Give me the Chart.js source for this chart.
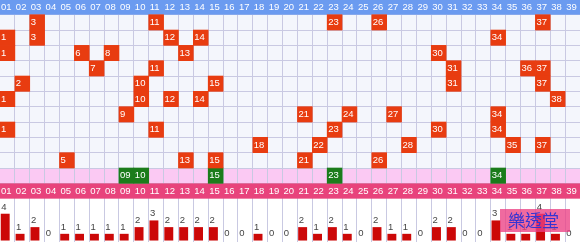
<!DOCTYPE html>
<html>
<head>
<meta charset="utf-8">
<script src="https://cdn.jsdelivr.net/npm/chart.js@4/dist/chart.umd.min.js"></script>
<style>
  body { margin: 0; background: #fff; }
  canvas { display: block; }
</style>
</head>
<body>
<canvas id="trend-chart" width="580" height="242"></canvas>
<script>
const numbers = ['01','02','03','04','05','06','07','08','09','10','11','12','13',
  '14','15','16','17','18','19','20','21','22','23','24','25','26',
  '27','28','29','30','31','32','33','34','35','36','37','38','39'];

// past draws, top row first
const draws = [
  [3, 11, 23, 26, 37],
  [1, 3, 12, 14, 34],
  [1, 6, 8, 13, 30],
  [7, 11, 31, 36, 37],
  [2, 10, 15, 31, 37],
  [1, 10, 12, 14, 38],
  [9, 21, 24, 27, 34],
  [1, 11, 23, 30, 34],
  [18, 22, 28, 35, 37],
  [5, 13, 15, 21, 26]
];
const latest = [9, 10, 15, 23, 34];
const counts = [4, 1, 2, 0, 1, 1, 1, 1, 1, 2, 3, 2, 2, 2, 2, 0, 0, 1, 0, 0,
  2, 1, 2, 1, 0, 2, 1, 1, 0, 2, 2, 0, 0, 3, 1, 1, 4, 1, 0];

const textFont = '9.5px "Liberation Sans", Arial, sans-serif';
const pad = n => String(n).padStart(2, '0');

const cellData = [];
draws.forEach((row, r) => row.forEach(n => cellData.push({x: pad(n), y: [r + 1, r + 2]})));
const latestData = latest.map(n => ({x: pad(n), y: [11, 12]}));
const countData = counts.map((c, i) => ({x: i, y: c}));

function band(chart, from, to, color) {
  const {ctx, chartArea, scales: {y}} = chart;
  const top = y.getPixelForValue(from);
  const bottom = y.getPixelForValue(to);
  ctx.fillStyle = color;
  ctx.fillRect(chartArea.left, top, chartArea.width, bottom - top);
}

const trendPlugin = {
  id: 'trend',
  beforeDraw(chart) {
    band(chart, 1, 11, '#f4f6fc');
    band(chart, 11, 12, '#fbc9f3');
  },
  beforeDatasetsDraw(chart) {
    band(chart, -1, 1, '#6b9bf0');
    band(chart, 12, 13, '#e8437c');
  },
  afterDatasetsDraw(chart) {
    const {ctx, scales: {x, y}} = chart;
    const colW = x.width / numbers.length;
    ctx.save();
    ctx.font = textFont;
    ctx.textBaseline = 'middle';
    ctx.textAlign = 'left';
    ctx.fillStyle = '#fff';

    // column headers, top and bottom
    numbers.forEach((label, i) => {
      const left = x.getPixelForValue(i) - colW / 2 + 1;
      ctx.fillText(label, left, y.getPixelForValue(0.5));
      ctx.fillText(label, left, y.getPixelForValue(12.5));
    });

    // numbers inside cells
    draws.forEach((row, r) => row.forEach(n => {
      const left = x.getPixelForValue(n - 1) - colW / 2 + 1;
      ctx.fillText(String(n), left, y.getPixelForValue(r + 1.5));
    }));
    latest.forEach(n => {
      const left = x.getPixelForValue(n - 1) - colW / 2 + 1;
      ctx.fillText(pad(n), left, y.getPixelForValue(11.5));
    });

    // count labels above the bars
    ctx.fillStyle = '#444';
    ctx.textBaseline = 'bottom';
    chart.getDatasetMeta(2).data.forEach((bar, i) => {
      ctx.fillText(String(counts[i]), bar.x - bar.width / 2 + 0.5, bar.y - 2);
    });

    // watermark
    ctx.fillStyle = 'rgba(236, 64, 132, 0.78)';
    ctx.fillRect(500, 209, 70, 23);
    ctx.fillStyle = '#3434d2';
    ctx.font = '17px "Noto Sans CJK TC", sans-serif';
    ctx.textBaseline = 'middle';
    ctx.fillText('樂透堂', 508, 221);
    ctx.restore();
  }
};

new Chart(document.getElementById('trend-chart'), {
  type: 'bar',
  data: {
    labels: numbers,
    datasets: [{
      label: 'draws',
      data: cellData,
      backgroundColor: '#e83c10',
      grouped: false,
      barPercentage: 1,
      categoryPercentage: 1
    }, {
      label: 'latest',
      data: latestData,
      backgroundColor: '#1b7c1b',
      grouped: false,
      barPercentage: 1,
      categoryPercentage: 1
    }, {
      label: 'counts',
      data: countData,
      xAxisID: 'xb',
      yAxisID: 'yc',
      backgroundColor: '#cc0808',
      grouped: false,
      barPercentage: 0.6,
      categoryPercentage: 1
    }]
  },
  options: {
    responsive: false,
    animation: false,
    devicePixelRatio: 1,
    layout: { padding: 0 },
    plugins: { legend: { display: false }, tooltip: { enabled: false } },
    scales: {
      x: {
        type: 'category',
        offset: true,
        grid: { offset: true, color: '#c9c9e2', drawTicks: false },
        border: { display: false },
        ticks: { display: false }
      },
      y: {
        type: 'linear',
        reverse: true,
        min: 0.041,
        max: 15.827,
        ticks: { display: false, stepSize: 1 },
        grid: {
          drawTicks: false,
          color: ctx => (ctx.tick && ctx.tick.value >= 1 && ctx.tick.value <= 12) ? '#c9c9e2' : 'rgba(0,0,0,0)'
        },
        border: { display: false }
      },
      xb: {
        type: 'linear',
        display: false,
        offset: false,
        grid: { offset: false },
        min: -0.35,
        max: 38.65
      },
      yc: {
        type: 'linear',
        display: false,
        min: -0.22,
        max: 35.9
      }
    }
  },
  plugins: [trendPlugin]
});
</script>
</body>
</html>
